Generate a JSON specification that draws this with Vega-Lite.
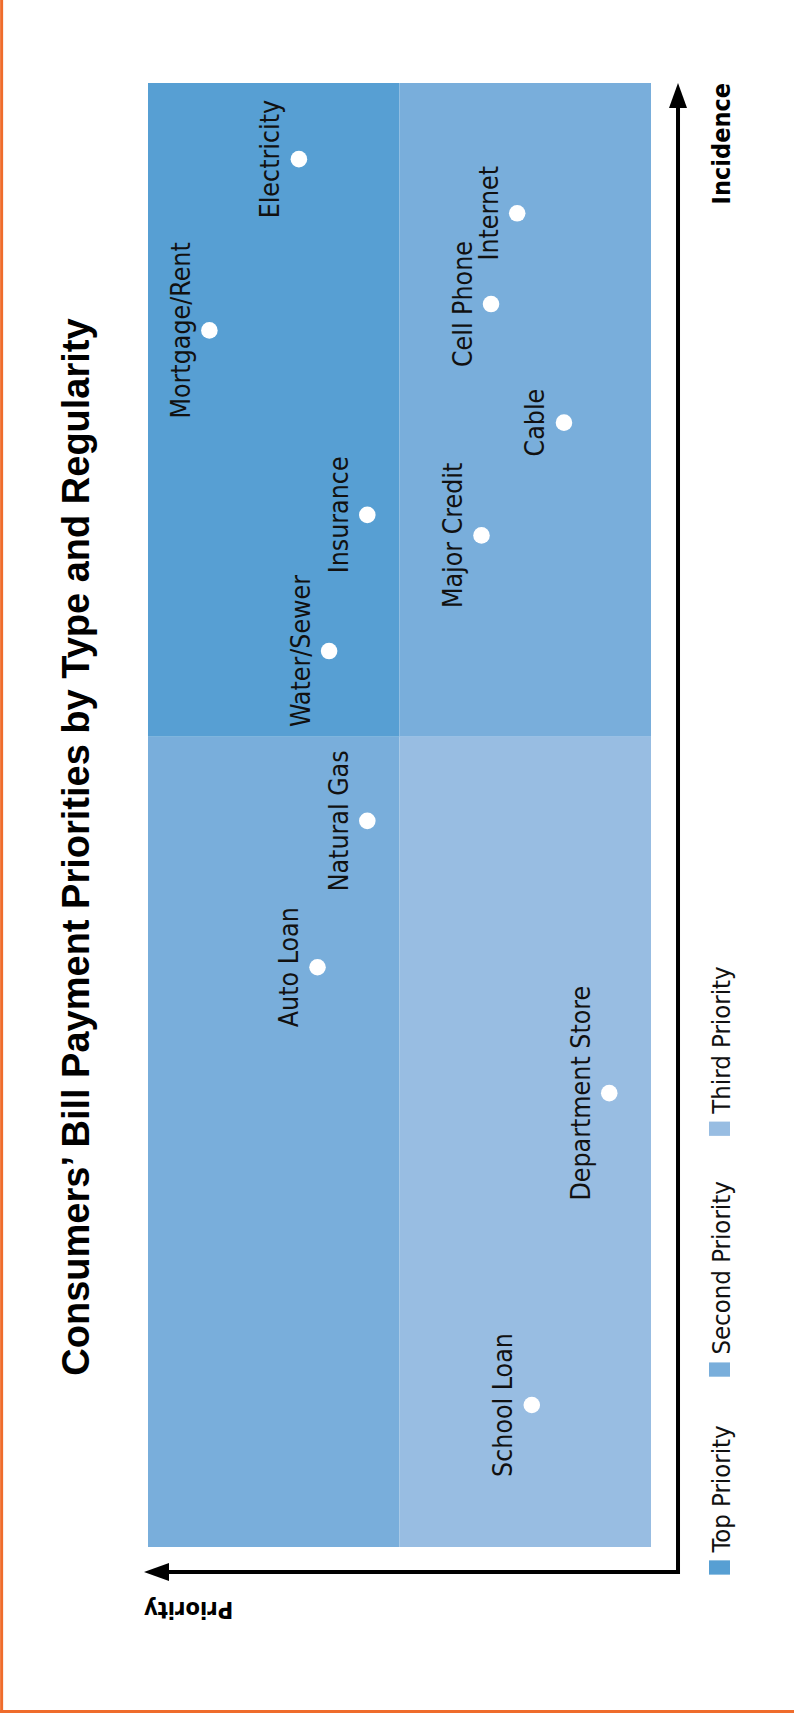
{
  "$schema": "https://vega.github.io/schema/vega-lite/v6.json",
  "width": 503,
  "height": 1464,
  "autosize": {"type": "none"},
  "padding": {"left": 148, "top": 83, "right": 143, "bottom": 166},
  "background": "white",
  "config": {"view": {"stroke": null}},
  "title": {
    "text": "Consumers’ Bill Payment Priorities by Type and Regularity",
    "orient": "left",
    "anchor": "middle",
    "frame": "group",
    "font": "Liberation Sans",
    "fontSize": 38,
    "fontWeight": "bold",
    "color": "#000000",
    "baseline": "alphabetic",
    "offset": -129,
    "dx": -32
  },
  "datasets": {
    "zones": [
      {"level": "Top Priority", "p0": 50, "p1": 100, "i0": 55.35, "i1": 100},
      {"level": "Second Priority", "p0": 0, "p1": 50, "i0": 55.35, "i1": 100},
      {"level": "Second Priority", "p0": 50, "p1": 100, "i0": 0, "i1": 55.35},
      {"level": "Third Priority", "p0": 0, "p1": 50, "i0": 0, "i1": 55.35}
    ],
    "bills": [
      {"bill": "Electricity", "priority": 70.0, "incidence": 94.8},
      {"bill": "Internet", "priority": 26.6, "incidence": 91.1},
      {"bill": "Cell Phone", "priority": 31.8, "incidence": 84.9},
      {"bill": "Mortgage/Rent", "priority": 87.8, "incidence": 83.1},
      {"bill": "Cable", "priority": 17.3, "incidence": 76.8},
      {"bill": "Insurance", "priority": 56.4, "incidence": 70.5},
      {"bill": "Major Credit", "priority": 33.7, "incidence": 69.1},
      {"bill": "Water/Sewer", "priority": 64.0, "incidence": 61.2},
      {"bill": "Natural Gas", "priority": 56.4, "incidence": 49.6},
      {"bill": "Auto Loan", "priority": 66.3, "incidence": 39.6},
      {"bill": "Department Store", "priority": 8.3, "incidence": 31.0},
      {"bill": "School Loan", "priority": 23.7, "incidence": 9.7}
    ],
    "anchor": [{}]
  },
  "layer": [
    {
      "data": {"name": "zones"},
      "mark": {"type": "rect"},
      "encoding": {
        "x": {"field": "p0", "type": "quantitative", "scale": {"domain": [0, 100], "reverse": true, "nice": false, "zero": false}, "axis": null},
        "x2": {"field": "p1"},
        "y": {"field": "i0", "type": "quantitative", "scale": {"domain": [0, 100], "nice": false, "zero": false}, "axis": null},
        "y2": {"field": "i1"},
        "color": {
          "field": "level",
          "type": "nominal",
          "scale": {"domain": ["Top Priority", "Second Priority", "Third Priority"], "range": ["#579FD3", "#79AEDB", "#98BDE2"]},
          "legend": null
        }
      }
    },
    {
      "data": {"name": "bills"},
      "mark": {"type": "point", "shape": "circle", "filled": true, "opacity": 1, "size": 275, "color": "#ffffff", "strokeWidth": 0},
      "encoding": {
        "x": {"field": "priority", "type": "quantitative", "scale": {"domain": [0, 100], "reverse": true}},
        "y": {"field": "incidence", "type": "quantitative", "scale": {"domain": [0, 100]}}
      }
    },
    {
      "data": {"name": "bills"},
      "mark": {"type": "text", "angle": 270, "align": "center", "baseline": "alphabetic", "dy": -19.5, "font": "DejaVu Sans Condensed, Roboto, sans-serif", "fontSize": 26.5, "color": "#111111"},
      "encoding": {
        "x": {"field": "priority", "type": "quantitative", "scale": {"domain": [0, 100], "reverse": true}},
        "y": {"field": "incidence", "type": "quantitative", "scale": {"domain": [0, 100]}},
        "text": {"field": "bill"}
      }
    },
    {
      "data": {"name": "anchor"},
      "mark": {"type": "rule", "color": "#000000", "strokeWidth": 4, "strokeCap": "square"},
      "encoding": {
        "x": {"datum": -5.37, "type": "quantitative", "scale": {"domain": [0, 100], "reverse": true}},
        "y": {"datum": -1.71, "type": "quantitative", "scale": {"domain": [0, 100]}},
        "y2": {"datum": 98.3}
      }
    },
    {
      "data": {"name": "anchor"},
      "mark": {"type": "rule", "color": "#000000", "strokeWidth": 4, "strokeCap": "square"},
      "encoding": {
        "x": {"datum": 96.0, "type": "quantitative", "scale": {"domain": [0, 100], "reverse": true}},
        "x2": {"datum": -5.37},
        "y": {"datum": -1.71, "type": "quantitative", "scale": {"domain": [0, 100]}}
      }
    },
    {
      "data": {"name": "anchor"},
      "mark": {"type": "point", "shape": "M0,0L-0.72,2L0.72,2Z", "size": 625, "filled": true, "opacity": 1, "color": "#000000", "strokeWidth": 0},
      "encoding": {
        "x": {"datum": -5.37, "type": "quantitative", "scale": {"domain": [0, 100], "reverse": true}},
        "y": {"datum": 100, "type": "quantitative", "scale": {"domain": [0, 100]}}
      }
    },
    {
      "data": {"name": "anchor"},
      "mark": {"type": "point", "shape": "M0,0L2,-0.72L2,0.72Z", "size": 625, "filled": true, "opacity": 1, "color": "#000000", "strokeWidth": 0},
      "encoding": {
        "x": {"datum": 100.8, "type": "quantitative", "scale": {"domain": [0, 100], "reverse": true}},
        "y": {"datum": -1.71, "type": "quantitative", "scale": {"domain": [0, 100]}}
      }
    },
    {
      "data": {"name": "anchor"},
      "mark": {"type": "text", "text": "Incidence", "angle": 270, "align": "right", "baseline": "alphabetic", "dy": 52, "font": "DejaVu Sans Condensed, Roboto, sans-serif", "fontSize": 25, "fontWeight": "bold", "color": "#000000"},
      "encoding": {
        "x": {"datum": -5.37, "type": "quantitative", "scale": {"domain": [0, 100], "reverse": true}},
        "y": {"datum": 100, "type": "quantitative", "scale": {"domain": [0, 100]}}
      }
    },
    {
      "data": {"name": "anchor"},
      "mark": {"type": "text", "text": "Priority", "angle": 180, "align": "right", "baseline": "alphabetic", "dy": -29.7, "font": "DejaVu Sans Condensed, Roboto, sans-serif", "fontSize": 23.5, "fontWeight": "bold", "color": "#000000"},
      "encoding": {
        "x": {"datum": 100.8, "type": "quantitative", "scale": {"domain": [0, 100], "reverse": true}},
        "y": {"datum": -1.71, "type": "quantitative", "scale": {"domain": [0, 100]}}
      }
    },
    {
      "data": {"name": "anchor"},
      "mark": {"type": "point", "shape": "M-1.47,-1L1.47,-1L1.47,1L-1.47,1Z", "size": 204, "filled": true, "opacity": 1, "color": "#579FD3", "strokeWidth": 0},
      "encoding": {
        "x": {"datum": -13.62, "type": "quantitative", "scale": {"domain": [0, 100], "reverse": true}},
        "y": {"datum": -1.4, "type": "quantitative", "scale": {"domain": [0, 100]}}
      }
    },
    {
      "data": {"name": "anchor"},
      "mark": {"type": "text", "text": "Top Priority", "angle": 270, "align": "left", "baseline": "alphabetic", "dx": 15, "dy": 10.5, "font": "DejaVu Sans Condensed, Roboto, sans-serif", "fontSize": 25.5, "color": "#111111"},
      "encoding": {
        "x": {"datum": -13.62, "type": "quantitative", "scale": {"domain": [0, 100], "reverse": true}},
        "y": {"datum": -1.4, "type": "quantitative", "scale": {"domain": [0, 100]}}
      }
    },
    {
      "data": {"name": "anchor"},
      "mark": {"type": "point", "shape": "M-1.47,-1L1.47,-1L1.47,1L-1.47,1Z", "size": 204, "filled": true, "opacity": 1, "color": "#79AEDB", "strokeWidth": 0},
      "encoding": {
        "x": {"datum": -13.62, "type": "quantitative", "scale": {"domain": [0, 100], "reverse": true}},
        "y": {"datum": 12.12, "type": "quantitative", "scale": {"domain": [0, 100]}}
      }
    },
    {
      "data": {"name": "anchor"},
      "mark": {"type": "text", "text": "Second Priority", "angle": 270, "align": "left", "baseline": "alphabetic", "dx": 15, "dy": 10.5, "font": "DejaVu Sans Condensed, Roboto, sans-serif", "fontSize": 25.5, "color": "#111111"},
      "encoding": {
        "x": {"datum": -13.62, "type": "quantitative", "scale": {"domain": [0, 100], "reverse": true}},
        "y": {"datum": 12.12, "type": "quantitative", "scale": {"domain": [0, 100]}}
      }
    },
    {
      "data": {"name": "anchor"},
      "mark": {"type": "point", "shape": "M-1.47,-1L1.47,-1L1.47,1L-1.47,1Z", "size": 204, "filled": true, "opacity": 1, "color": "#98BDE2", "strokeWidth": 0},
      "encoding": {
        "x": {"datum": -13.62, "type": "quantitative", "scale": {"domain": [0, 100], "reverse": true}},
        "y": {"datum": 28.57, "type": "quantitative", "scale": {"domain": [0, 100]}}
      }
    },
    {
      "data": {"name": "anchor"},
      "mark": {"type": "text", "text": "Third Priority", "angle": 270, "align": "left", "baseline": "alphabetic", "dx": 15, "dy": 10.5, "font": "DejaVu Sans Condensed, Roboto, sans-serif", "fontSize": 25.5, "color": "#111111"},
      "encoding": {
        "x": {"datum": -13.62, "type": "quantitative", "scale": {"domain": [0, 100], "reverse": true}},
        "y": {"datum": 28.57, "type": "quantitative", "scale": {"domain": [0, 100]}}
      }
    },
    {
      "data": {"name": "anchor"},
      "mark": {"type": "rule", "color": "#EF6C2C", "strokeWidth": 3},
      "encoding": {
        "x": {"datum": 129.1, "type": "quantitative", "scale": {"domain": [0, 100], "reverse": true}},
        "y": {"datum": -11.4, "type": "quantitative", "scale": {"domain": [0, 100]}},
        "y2": {"datum": 105.8}
      }
    },
    {
      "data": {"name": "anchor"},
      "mark": {"type": "rule", "color": "#EF6C2C", "strokeWidth": 3},
      "encoding": {
        "x": {"datum": 129.5, "type": "quantitative", "scale": {"domain": [0, 100], "reverse": true}},
        "x2": {"datum": -28.6},
        "y": {"datum": -11.24, "type": "quantitative", "scale": {"domain": [0, 100]}}
      }
    }
  ]
}
